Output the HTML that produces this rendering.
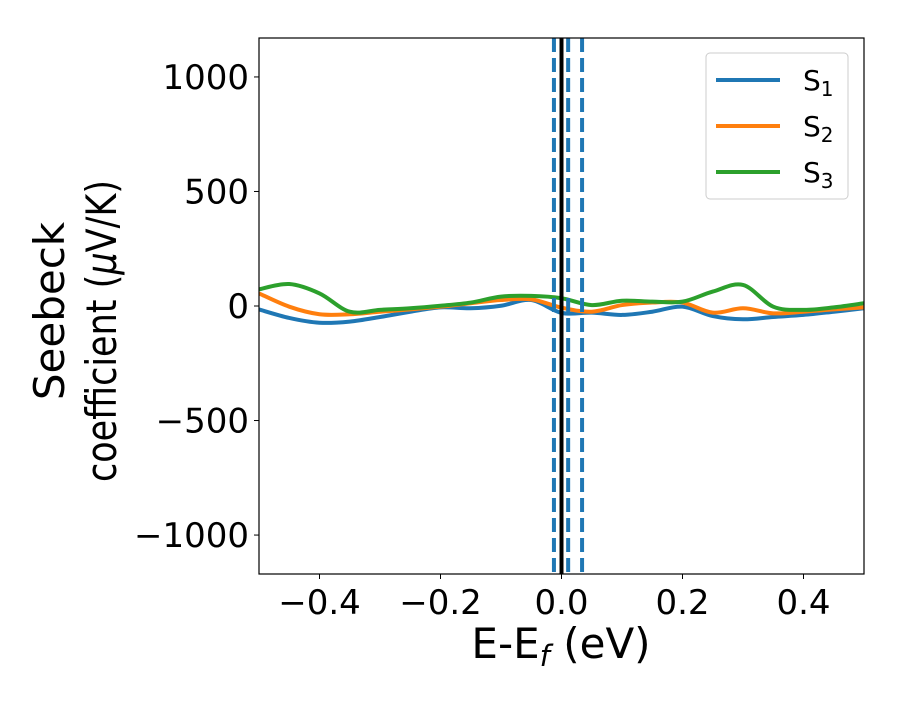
<!DOCTYPE html>
<html><head><meta charset="utf-8"><style>
body{margin:0;background:#fff}
svg text{font-family:"DejaVu Sans","Liberation Sans",sans-serif;fill:#000}
</style></head><body>
<svg id="c" width="900" height="700" xmlns="http://www.w3.org/2000/svg"></svg>
<script>
const xs=[-0.5,-0.45,-0.4,-0.35,-0.3,-0.25,-0.2,-0.15,-0.1,-0.05,0,0.05,0.1,0.15,0.2,0.25,0.3,0.35,0.4,0.45,0.5];
const s1=[-15,-52,-73,-68,-48,-25,-6,-10,1,26,-30,-29,-39,-25,-3,-44,-58,-48,-39,-25,-10];
const s2=[55,-3,-36,-36,-25,-15,-3,12,26,29,-7,-25,4,15,15,-29,-10,-32,-25,-15,-6];
const s3=[73,96,55,-25,-17,-10,1,15,41,44,34,4,23,19,19,63,92,-3,-17,-6,12];
const xTicks=[-0.4,-0.2,0.0,0.2,0.4];
const xTickLabels=["\u22120.4","\u22120.2","0.0","0.2","0.4"];
const yTicks=[1000,500,0,-500,-1000];
const yTickLabels=["1000","500","0","\u2212500","\u22121000"];
const vDashed=[-0.0125,0.011,0.034];
const vSolid=[0];
const L=259,R=864,T=38,B=574;
const X=v=>L+(v+0.5)/1.0*(R-L);
const Y=v=>T+(1170-v)/2340*(B-T);
const svg=document.getElementById('c');
const NS='http://www.w3.org/2000/svg';
function mk(t,a,p){const e=document.createElementNS(NS,t);for(const k in a)e.setAttribute(k,a[k]);(p||svg).appendChild(e);return e;}
function smooth(pts){let d=`M${pts[0][0]},${pts[0][1]}`;for(let i=0;i<pts.length-1;i++){const p0=pts[Math.max(0,i-1)],p1=pts[i],p2=pts[i+1],p3=pts[Math.min(pts.length-1,i+2)];d+=` C${p1[0]+(p2[0]-p0[0])/6},${p1[1]+(p2[1]-p0[1])/6} ${p2[0]-(p3[0]-p1[0])/6},${p2[1]-(p3[1]-p1[1])/6} ${p2[0]},${p2[1]}`;}return d;}
const defs=mk('defs',{});const cp=mk('clipPath',{id:'cp'},defs);mk('rect',{x:L,y:T,width:R-L,height:B-T},cp);
const series=[[s1,'#1f77b4','series-s1'],[s2,'#ff7f0e','series-s2'],[s3,'#2ca02c','series-s3']];
series.forEach(([s,c,n])=>{const e=mk('path',{d:smooth(xs.map((x,i)=>[X(x),Y(s[i])])),fill:'none',stroke:c,'stroke-width':4,'clip-path':'url(#cp)'});

});
vDashed.forEach(v=>{const e=mk('line',{x1:X(v),x2:X(v),y1:T,y2:B,stroke:'#1f77b4','stroke-width':4,'stroke-dasharray':'14 6'});

});
vSolid.forEach(v=>{const e=mk('line',{x1:X(v),x2:X(v),y1:T,y2:B,stroke:'#000','stroke-width':4});

});
const fr=mk('rect',{x:L,y:T,width:R-L,height:B-T,fill:'none',stroke:'#000','stroke-width':1.2});


xTicks.forEach((v,i)=>{mk('line',{x1:X(v),x2:X(v),y1:B,y2:B+5,stroke:'#000'});const t=mk('text',{x:X(v),y:B+40,'text-anchor':'middle','font-size':34});t.textContent=xTickLabels[i];

});
yTicks.forEach((v,i)=>{mk('line',{x1:L-5,x2:L,y1:Y(v),y2:Y(v),stroke:'#000'});const t=mk('text',{x:L-10,y:Y(v)+12,'text-anchor':'end','font-size':34});t.textContent=yTickLabels[i];

});
const xl=mk('text',{x:561,y:658,'text-anchor':'middle','font-size':42});xl.innerHTML='E-E<tspan font-style="italic" font-size="29" dy="8">f</tspan><tspan dy="-8"> (eV)</tspan>';


const yl=mk('text',{'font-size':42,'text-anchor':'middle',transform:'rotate(-90)'});
yl.innerHTML='<tspan x="-311" y="64">Seebeck</tspan>';


const yl2=mk('text',{'font-size':42,x:-482,y:116,transform:'rotate(-90)',textLength:302,lengthAdjust:'spacingAndGlyphs'});
yl2.innerHTML='coefficient (<tspan font-style="italic">μ</tspan>V/K)';


const lg=mk('g',{});


mk('rect',{x:706,y:53,width:142,height:146,rx:4,fill:'#fff',stroke:'#ccc','stroke-width':1},lg);
['1','2','3'].forEach((s,i)=>{const y=80+i*46;const ln=mk('line',{x1:716,x2:780,y1:y,y2:y,stroke:series[i][1],'stroke-width':4},lg);


const t=mk('text',{x:803,y:y+10,'font-size':28},lg);t.innerHTML='S<tspan font-size="20" dy="6">'+s+'</tspan>';

});
</script>
</body></html>
